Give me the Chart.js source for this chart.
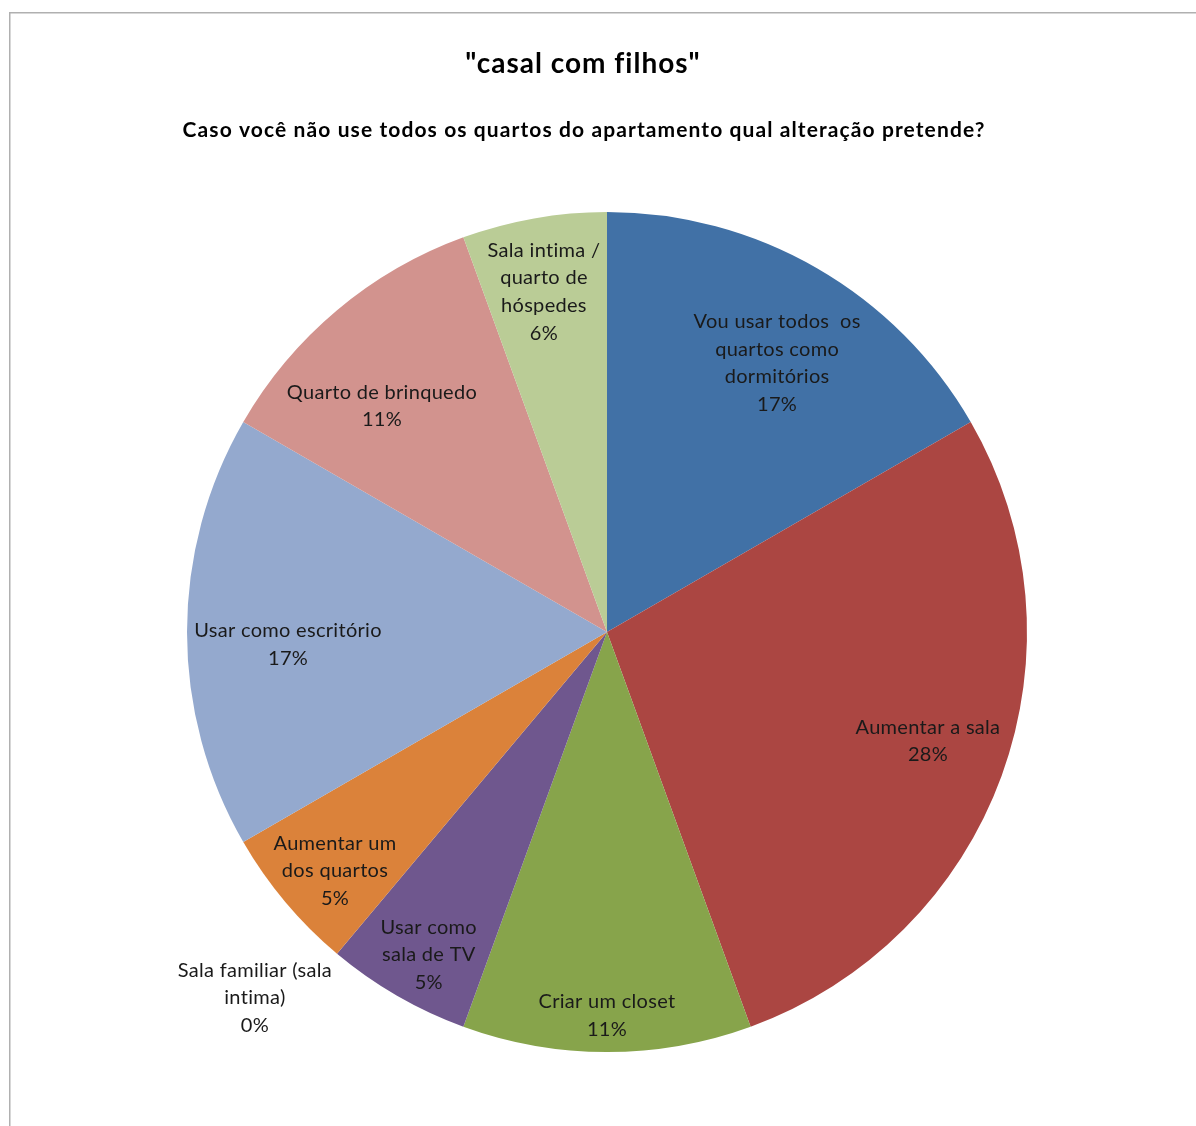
<!DOCTYPE html>
<html>
<head>
<meta charset="utf-8">
<script src="https://cdn.jsdelivr.net/npm/chart.js@4/dist/chart.umd.min.js"></script>
<style>
html,body{margin:0;padding:0;background:#fff;}
#wrap{width:1196px;height:1126px;position:relative;}
</style>
</head>
<body>
<div id="wrap"><canvas id="c"></canvas></div>
<script>
// ---- data ----
const chartTitle = '"casal com filhos"';
const chartSubtitle = 'Caso você não use todos os quartos do apartamento qual alteração pretende?';
const categories = [
  ["Vou usar todos  os", "quartos como", "dormitórios"],
  ["Aumentar a sala"],
  ["Criar um closet"],
  ["Usar como", "sala de TV"],
  ["Aumentar um", "dos quartos"],
  ["Sala familiar (sala", "intima)"],
  ["Usar como escritório"],
  ["Quarto de brinquedo"],
  ["Sala intima /", "quarto de", "hóspedes"]
];
const counts = [3, 5, 2, 1, 1, 0, 3, 2, 1];
const percentLabels = ["17%", "28%", "11%", "5%", "5%", "0%", "17%", "11%", "6%"];

// ---- styles ----
const sliceColors = ["#4171A6","#AB4642","#87A44B","#6F578E","#DB823A","#8FB3D9","#94A9CE","#D2938E","#BACC96"];
// label placement: [radius fraction, angle tweak in degrees]
const labelPlace = [[0.758,2.3],[0.807,-1.25],[0.914,0],[0.878,-1.1],[0.862,-1.3],[1.209,-16.1],[0.760,-2.3],[0.759,-4.9],[0.824,-0.5]];
const FONT = "Lato, 'Open Sans', sans-serif";

function setSpacing(ctx, v) { if ('letterSpacing' in ctx) ctx.letterSpacing = v; }

const decor = {
  id: 'decor',
  beforeDraw(chart) {
    const ctx = chart.ctx;
    ctx.save();
    ctx.strokeStyle = '#b0b0b0';
    ctx.lineWidth = 1.5;
    ctx.strokeRect(9.75, 12.75, 1300, 1300);
    ctx.restore();
  },
  afterDraw(chart) {
    const ctx = chart.ctx;
    ctx.save();
    ctx.fillStyle = '#000';
    ctx.textAlign = 'center';
    ctx.textBaseline = 'middle';
    ctx.font = "bold 28px " + FONT;
    setSpacing(ctx, '1px');
    ctx.fillText(chartTitle, 583, 64);
    ctx.font = "bold 21px " + FONT;
    setSpacing(ctx, '1.1px');
    ctx.fillText(chartSubtitle, 584, 130);

    const meta = chart.getDatasetMeta(0);
    ctx.font = "20px " + FONT;
    setSpacing(ctx, '0.3px');
    ctx.fillStyle = '#1a1a1a';
    const lh = 27.7;
    meta.data.forEach((arc, i) => {
      const p = arc.getProps(['x','y','startAngle','endAngle','outerRadius'], true);
      const mid = (p.startAngle + p.endAngle) / 2 + labelPlace[i][1] * Math.PI / 180;
      const r = p.outerRadius * labelPlace[i][0];
      const cx = p.x + r * Math.cos(mid);
      const cy = p.y + r * Math.sin(mid);
      const lines = categories[i].concat([percentLabels[i]]);
      const y0 = cy - (lines.length - 1) * lh / 2;
      lines.forEach((t, k) => ctx.fillText(t, cx, y0 + k * lh));
    });
    ctx.restore();
  }
};

new Chart(document.getElementById('c'), {
  type: 'pie',
  data: {
    labels: categories,
    datasets: [{
      data: counts,
      backgroundColor: sliceColors,
      borderWidth: 0
    }]
  },
  options: {
    responsive: true,
    maintainAspectRatio: false,
    animation: false,
    layout: { padding: { top: 212, bottom: 74, left: 187, right: 169 } },
    plugins: {
      legend: { display: false },
      tooltip: { enabled: false },
      title: { display: false }
    }
  },
  plugins: [decor]
});
</script>
</body>
</html>
